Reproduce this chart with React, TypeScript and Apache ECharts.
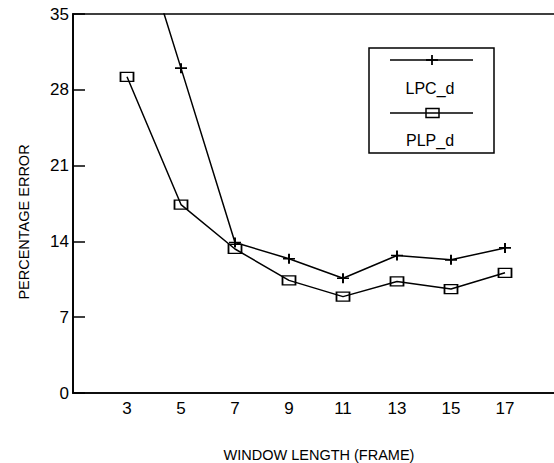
import React, { useEffect, useRef } from "react";
import * as echarts from "echarts";

const windowLengths = [3, 5, 7, 9, 11, 13, 15, 17];
const lpcD = [46.0, 30.0, 13.9, 12.4, 10.6, 12.7, 12.3, 13.4];
const plpD = [29.2, 17.4, 13.3, 10.4, 8.9, 10.3, 9.6, 11.1];
const xTickLabels = [3, 5, 7, 9, 11, 13, 15, 17];
const yTickLabels = [0, 7, 14, 21, 28, 35];
const seriesNames = ["LPC_d", "PLP_d"];

const FONT = "Liberation Sans, Arial, sans-serif";
const PLUS = "path://M0,5L12,5M6,0L6,10";

export default function App() {
  const ref = useRef<HTMLDivElement>(null);
  useEffect(() => {
    if (!ref.current) return;
    const chart = echarts.init(ref.current, null, { renderer: "svg" });
    const option: any = {
      animation: false,
      backgroundColor: "#ffffff",
      grid: {
        left: 73,
        top: 14,
        width: 486,
        height: 379,
        show: true,
        borderColor: "#000",
        borderWidth: 1.5,
        backgroundColor: "transparent",
        containLabel: false,
        outerBoundsMode: "none",
      },
      xAxis: {
        type: "value",
        min: 1,
        max: 19,
        interval: 2,
        axisLine: { show: true, lineStyle: { color: "#000", width: 1.5 } },
        axisTick: { show: false },
        splitLine: { show: false },
        axisLabel: {
          color: "#000",
          fontFamily: FONT,
          fontSize: 17,
          margin: 7,
          formatter: (v: number) => (xTickLabels.includes(v) ? String(v) : ""),
        },
      },
      yAxis: {
        type: "value",
        min: 0,
        max: 35,
        interval: 7,
        axisLine: { show: true, lineStyle: { color: "#000", width: 1.8 } },
        axisTick: {
          show: true,
          inside: true,
          length: 12,
          lineStyle: { color: "#000", width: 1.5 },
        },
        splitLine: { show: false },
        axisLabel: {
          color: "#000",
          fontFamily: FONT,
          fontSize: 17,
          margin: 4,
          formatter: (v: number) => (yTickLabels.includes(v) ? String(v) : ""),
        },
      },
      series: [
        {
          name: seriesNames[0],
          type: "line",
          data: windowLengths.map((x, i) => [x, lpcD[i]]),
          clip: true,
          symbol: PLUS,
          symbolSize: [12, 10],
          showAllSymbol: true,
          lineStyle: { color: "#000", width: 1.5 },
          itemStyle: { color: "rgba(0,0,0,0)", borderColor: "#000", borderWidth: 1.8 },
        },
        {
          name: seriesNames[1],
          type: "line",
          data: windowLengths.map((x, i) => [x, plpD[i]]),
          clip: true,
          symbol: "rect",
          symbolSize: [13, 9],
          showAllSymbol: true,
          lineStyle: { color: "#000", width: 1.5 },
          itemStyle: { color: "rgba(0,0,0,0)", borderColor: "#000", borderWidth: 1.5 },
        },
      ],
      graphic: [
        {
          type: "text",
          x: 319,
          y: 455,
          style: {
            text: "WINDOW LENGTH (FRAME)",
            fontFamily: FONT,
            fontSize: 14.5,
            fill: "#000",
            align: "center",
            verticalAlign: "middle",
          },
        },
        {
          type: "text",
          x: 24,
          y: 222,
          rotation: Math.PI / 2,
          style: {
            text: "PERCENTAGE ERROR",
            fontFamily: FONT,
            fontSize: 14.5,
            fill: "#000",
            align: "center",
            verticalAlign: "middle",
          },
        },
        {
          type: "rect",
          shape: { x: 369, y: 48, width: 125, height: 105 },
          style: { fill: "#fff", stroke: "#000", lineWidth: 1.5 },
        },
        {
          type: "line",
          shape: { x1: 390, y1: 60, x2: 473, y2: 60 },
          style: { stroke: "#000", lineWidth: 1.5 },
        },
        {
          type: "line",
          shape: { x1: 426, y1: 60, x2: 438, y2: 60 },
          style: { stroke: "#000", lineWidth: 1.8 },
        },
        {
          type: "line",
          shape: { x1: 432, y1: 55, x2: 432, y2: 65 },
          style: { stroke: "#000", lineWidth: 1.8 },
        },
        {
          type: "text",
          x: 430,
          y: 88,
          style: {
            text: seriesNames[0],
            fontFamily: FONT,
            fontSize: 16,
            fill: "#000",
            align: "center",
            verticalAlign: "middle",
          },
        },
        {
          type: "line",
          shape: { x1: 390, y1: 113, x2: 473, y2: 113 },
          style: { stroke: "#000", lineWidth: 1.5 },
        },
        {
          type: "rect",
          shape: { x: 426, y: 108.5, width: 13, height: 9 },
          style: { fill: "rgba(0,0,0,0)", stroke: "#000", lineWidth: 1.5 },
        },
        {
          type: "text",
          x: 430,
          y: 140,
          style: {
            text: seriesNames[1],
            fontFamily: FONT,
            fontSize: 16,
            fill: "#000",
            align: "center",
            verticalAlign: "middle",
          },
        },
      ],
    };
    chart.setOption(option);
    return () => chart.dispose();
  }, []);
  return (
    <div
      ref={ref}
      style={{ position: "fixed", left: 0, top: 0, width: 554, height: 463, background: "#fff" }}
    />
  );
}
